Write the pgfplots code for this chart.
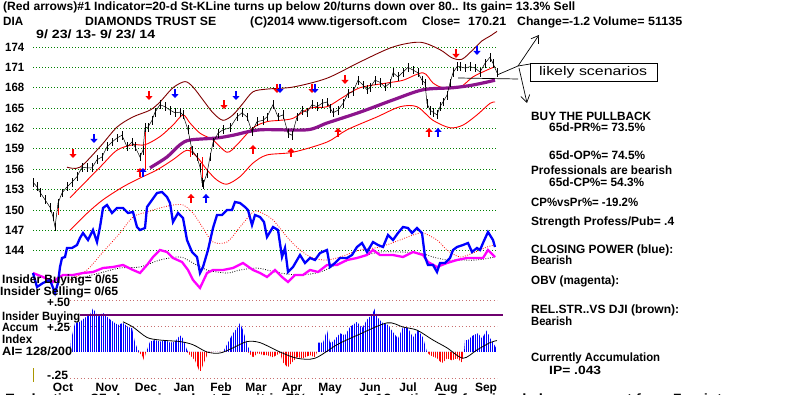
\documentclass[border=0pt]{standalone}
\usepackage{pgfplots}
\pgfplotsset{compat=1.18}
\usetikzlibrary{arrows.meta,patterns.meta}
\usepackage{graphicx}
\usepackage{fontspec}
\setmainfont{Liberation Sans}
\definecolor{grn}{RGB}{0,128,0}
\definecolor{dred}{RGB}{128,0,0}
\definecolor{purp}{RGB}{140,20,140}
\definecolor{ipurp}{RGB}{110,0,110}
\definecolor{mag}{RGB}{255,0,255}
\definecolor{ddot}{RGB}{200,110,110}
\definecolor{olive}{RGB}{170,150,0}
\newcommand\B{\fontsize{12}{14}\selectfont\bfseries}
\newcommand\txt[4]{\node[anchor=base west,inner sep=0pt] at (#1,395-#2) {\resizebox{#3pt}{\height}{\B #4}};}
\pgfplotstableread{
x y
70 0.0
71 0.115
75 0.28
80 0.29
85 0.33
90 0.36
93 0.42
98 0.34
103 0.375
108 0.33
113 0.29
118 0.26
123 0.28
128 0.24
132 0.23
135 0.09
138 0.02
140 0.0
142 0.0
144 0.0
146 0.0
147 0.02
150 0.10
155 0.115
160 0.10
165 0.115
170 0.09
175 0.10
180 0.16
183 0.13
187 0.02
188 0.0
223 0.0
228 0.09
233 0.18
238 0.24
240 0.28
243 0.21
248 0.05
251 0.0
317 0.0
318 0.09
323 0.09
327 0.21
330 0.09
333 0.10
340 0.18
345 0.16
350 0.24
357 0.29
362 0.23
367 0.31
372 0.36
375 0.42
378 0.33
383 0.28
388 0.26
393 0.19
398 0.13
403 0.24
408 0.23
413 0.14
418 0.21
423 0.14
427 0.0
464 0.0
465 0.115
468 0.115
473 0.16
478 0.18
482 0.13
487 0.21
490 0.14
493 0.09
496 0.04
497 0.0
}\aipos
\pgfplotstableread{
x y
138 0.0
142 -0.03
144 -0.08
146 0.0
187 0.0
190 -0.03
195 -0.08
200 -0.20
203 -0.125
208 -0.01
213 0.0
218 0.0
223 0.0
248 0.0
253 -0.05
258 -0.01
263 -0.03
267 -0.03
273 -0.05
280 -0.01
283 -0.10
288 -0.15
292 -0.10
297 -0.05
303 -0.06
310 -0.03
315 -0.05
317 0.0
427 0.0
430 -0.03
437 -0.06
442 -0.11
447 -0.06
452 -0.08
457 -0.06
462 -0.10
464 0.0
}\aineg
\begin{document}
\begin{tikzpicture}[x=1pt,y=1pt]
\useasboundingbox (0,0) rectangle (800,395);
\fill[white] (0,0) rectangle (800,395);
% ---------------- price panel ----------------
\begin{axis}[at={(0,0)},anchor=south west,scale only axis,width=800pt,height=395pt,
  xmin=0,xmax=800,ymin=122.75,ymax=180.92,hide axis,clip=false]
\pgfplotsinvokeforeach{144,147,...,174}{
  \draw[grn,line width=0.9pt,dash pattern=on 0.9pt off 2.1pt] (axis cs:33,#1) -- (axis cs:497,#1);
  \node[anchor=west,inner sep=0pt] at (axis cs:5,#1) {\resizebox{19pt}{\height}{\B #1}};
}
% upper band
\addplot[dred,line width=0.9pt,smooth] coordinates {
(67,156.3)(80,156.3)(100,159.3)(117,162.2)(133,163.7)(150,164.7)(160,165.9)(173,168.0)(185,168.9)(193,168.1)(203,166.2)(213,164.3)(223,163.2)(233,164.0)(243,165.7)(253,167.4)(267,167.8)(293,168.1)(327,169.4)(360,171.8)(393,174.0)(420,174.7)(440,173.6)(452,172.4)(462,172.2)(473,173.6)(482,174.9)(490,175.6)(497,176.3)};
% middle band
\addplot[red,line width=0.9pt,smooth] coordinates {
(70,151.8)(100,156.3)(117,158.8)(133,159.6)(145,159.6)(160,160.8)(173,162.5)(183,164.0)(190,162.8)(200,161.3)(213,160.3)(227,158.5)(237,159.6)(253,162.1)(267,163.0)(280,163.2)(293,163.5)(310,165.0)(327,165.2)(343,166.6)(360,168.0)(387,168.7)(403,169.1)(423,170.2)(433,168.7)(443,168.0)(460,168.1)(473,169.6)(487,170.6)(495,171.1)};
% lower band
\addplot[red,line width=0.9pt,smooth] coordinates {
(70,147.0)(87,149.5)(103,151.5)(123,153.4)(140,154.7)(157,155.9)(173,157.4)(187,158.8)(197,157.8)(207,155.9)(217,154.4)(227,153.8)(240,154.9)(253,156.9)(267,158.1)(293,158.5)(327,160.0)(347,161.8)(377,163.7)(400,165.2)(417,165.2)(433,163.2)(450,162.1)(463,162.5)(477,164.0)(490,165.7)(495,165.9)};
% gap lines
\addplot[red,line width=1pt] coordinates {(58,149.3)(58,151.3)};
\addplot[red,line width=1pt] coordinates {(145,155.9)(145,162.1)};
\addplot[red,line width=1pt] coordinates {(137,155.9)(145,155.9)};
\addplot[red,line width=1pt] coordinates {(190,157.8)(190,159.3)};
\addplot[red,line width=1pt] coordinates {(202,153.4)(202,157.8)};
% 65-day MA
\addplot[purp,line width=3.2pt,smooth] coordinates {
(150,156.2)(167,157.8)(180,159.6)(190,160.3)(217,160.6)(233,161.0)(260,161.8)(307,161.8)(327,162.8)(360,164.4)(393,166.2)(423,167.7)(453,168.0)(473,168.4)(495,169.1)};
% price bars
\addplot[black,line width=0.5pt,error bars/.cd,y dir=both,y fixed=0.65,error mark=none,
  error bar style={line width=1pt,black}] table {
x y
33 154.1
37 153.4
40 152.6
45 151.5
50 150.4
53 149.0
55 147.5
58 151.0
62 152.5
67 153.4
72 154.1
77 154.9
82 156.3
87 156.2
92 156.2
97 157.4
102 157.8
107 159.3
112 160.0
117 160.6
122 161.0
127 159.3
132 160.0
135 159.3
140 157.8
143 158.8
145 162.1
148 162.2
152 163.2
155 164.4
160 165.5
165 165.2
170 164.7
175 164.3
180 164.4
183 164.0
188 161.8
192 158.8
197 157.8
200 156.3
202 154.0
203 153.7
207 155.4
210 157.8
213 159.9
218 161.3
223 161.8
230 162.1
237 163.7
242 164.3
247 163.7
252 161.5
257 163.0
263 163.2
267 163.7
273 165.5
278 163.7
283 164.0
288 161.3
292 161.0
297 163.7
302 164.7
307 164.4
312 165.5
317 165.2
322 165.7
327 165.9
330 165.0
333 164.3
338 164.7
343 165.7
348 167.2
353 167.4
358 169.1
363 168.4
367 167.7
370 168.0
375 169.1
380 168.8
385 168.1
390 168.7
393 170.2
398 169.6
403 170.3
408 171.0
413 170.6
418 170.2
422 169.1
425 168.7
427 165.7
430 164.7
433 164.4
437 164.0
440 165.2
443 165.9
447 166.9
450 168.7
453 170.2
457 171.1
460 171.1
465 170.9
470 171.1
475 170.9
480 170.3
485 171.6
490 172.5
493 171.6
497 170.2
};
% arrows
\addplot[red,line width=2.2pt,-{Triangle[width=7pt,length=4pt]},quiver={u=0,v=\thisrow{v}}] table {
x y v
73 158.98 -1.33
149 167.52 -1.33
224 166.19 -1.33
277 168.55 -1.33
312 168.55 -1.33
345 169.88 -1.33
456 173.71 -1.33
140 154.85 1.33
191 151.03 1.33
253 158.24 1.33
291 157.80 1.33
338 160.75 1.33
429 160.75 1.33
};
\addplot[blue,line width=2.2pt,-{Triangle[width=7pt,length=4pt]},quiver={u=0,v=\thisrow{v}}] table {
x y v
94 161.19 -1.33
175 167.81 -1.33
236 167.52 -1.33
280 168.55 -1.33
315 168.55 -1.33
477 174.15 -1.33
143 154.85 1.33
206 151.03 1.33
438 160.75 1.33
};
\end{axis}
% ---------------- indicator panel (CP / OBV) ----------------
\begin{axis}[at={(0,0)},anchor=south west,scale only axis,width=800pt,height=395pt,
  xmin=0,xmax=800,ymin=0,ymax=395,y dir=reverse,hide axis,clip=false]
\addplot[red,line width=0.8pt,dash pattern=on 0.8pt off 1.6pt,smooth] coordinates {
(70,280)(87,270)(103,252)(120,233)(133,217)(147,212)(160,208)(173,205)(183,205)(193,213)(203,228)(213,242)(227,242)(240,227)(253,212)(260,212)(273,220)(287,237)(300,250)(313,258)(327,260)(340,257)(360,250)(380,247)(400,240)(413,235)(423,233)(437,240)(447,250)(460,257)(473,253)(487,247)(495,245)};
\addplot[black,line width=0.8pt,dash pattern=on 0.8pt off 1.6pt,smooth] coordinates {
(73,280)(100,273)(120,268)(140,267)(160,260)(180,257)(193,263)(207,270)(227,273)(240,270)(257,268)(267,270)(280,273)(300,275)(320,272)(340,263)(360,257)(380,252)(400,252)(420,253)(433,257)(447,260)(460,260)(477,260)(495,257)};
\addplot[mag,line width=2.3pt] coordinates {
(33,273)(43,277)(53,282)(58,278)(63,275)(73,275)(83,273)(93,272)(103,268)(113,267)(123,265)(133,270)(140,273)(147,265)(153,257)(160,250)(167,252)(173,258)(182,262)(188,270)(193,280)(200,288)(207,273)(213,270)(223,270)(233,268)(243,263)(253,270)(260,273)(267,277)(275,270)(282,277)(288,282)(295,275)(303,275)(310,270)(318,272)(327,265)(337,265)(347,260)(357,258)(367,255)(373,250)(380,255)(393,255)(403,257)(413,252)(423,255)(428,262)(437,267)(447,263)(457,260)(467,258)(477,258)(483,258)(488,250)(495,257)};
\addplot[blue,line width=2.3pt] coordinates {
(33,273)(37,287)(43,283)(50,280)(55,293)(58,283)(60,267)(62,258)(65,257)(67,248)(72,248)(77,245)(80,238)(83,233)(88,240)(93,230)(97,242)(100,227)(103,208)(107,205)(112,213)(117,208)(123,208)(128,213)(133,212)(137,227)(140,230)(145,228)(147,207)(152,200)(157,193)(162,192)(167,197)(170,203)(173,222)(178,213)(183,218)(187,240)(192,252)(197,257)(200,273)(203,267)(208,250)(213,228)(217,215)(222,215)(227,210)(232,210)(235,202)(240,203)(245,207)(248,210)(252,225)(255,215)(260,217)(264,222)(267,237)(273,227)(278,230)(282,257)(285,248)(288,272)(293,267)(300,255)(305,263)(310,258)(315,260)(320,253)(327,250)(330,267)(335,263)(340,258)(347,258)(352,255)(357,247)(362,243)(367,252)(373,242)(378,245)(383,247)(388,235)(393,240)(398,233)(403,227)(408,228)(412,233)(417,228)(422,233)(425,257)(428,265)(433,265)(437,272)(440,263)(445,263)(450,258)(453,250)(457,247)(463,245)(468,243)(472,252)(477,248)(480,250)(483,243)(488,232)(493,240)(495,247)};
\end{axis}
% ---------------- accumulation index panel ----------------
\begin{axis}[at={(0,0)},anchor=south west,scale only axis,width=800pt,height=395pt,
  xmin=0,xmax=800,ymin=-0.4135,ymax=3.385,hide axis,clip=false]
\draw[ddot,line width=0.9pt,dash pattern=on 0.9pt off 2.6pt] (axis cs:70,0.5) -- (axis cs:497,0.5);
\draw[ddot,line width=0.9pt,dash pattern=on 0.9pt off 2.6pt] (axis cs:70,0.25) -- (axis cs:497,0.25);
\draw[ddot,line width=0.9pt,dash pattern=on 0.9pt off 2.6pt] (axis cs:70,-0.25) -- (axis cs:497,-0.25);
\draw[olive,line width=1pt] (axis cs:33,-0.154) -- (axis cs:33,-0.288);
\addplot[draw=none,pattern={Lines[angle=90,distance=2.2pt,line width=1.1pt]},pattern color=blue] table {\aipos} \closedcycle;
\addplot[draw=none,pattern={Lines[angle=90,distance=2.2pt,line width=1.1pt]},pattern color=red] table {\aineg} \closedcycle;
\draw[ipurp,line width=1.2pt] (axis cs:80,0.356) -- (axis cs:503,0.356);
\addplot[black,line width=0.8pt,smooth] coordinates {
(123,0.29)(133,0.24)(147,0.14)(160,0.115)(180,0.10)(193,0.07)(207,0.0)(220,-0.01)(233,0.04)(247,0.10)(260,0.09)(280,0.0)(297,-0.06)(315,-0.06)(337,0.07)(357,0.16)(387,0.28)(403,0.24)(417,0.21)(433,0.115)(447,0.04)(463,-0.06)(477,0.02)(490,0.09)(497,0.11)};
\end{axis}
% ---------------- scenario annotation ----------------
\draw[line width=0.7pt] (458,395-78) -- (518,395-79);
\draw[line width=0.7pt] (497,395-75) -- (518,395-66) -- (530,395-64);
\draw[line width=0.7pt,-{Straight Barb[length=7pt,width=9pt]}] (518,395-66) -- (539,395-35);
\draw[line width=0.7pt,-{Straight Barb[length=7pt,width=9pt]}] (519,395-68) -- (527,395-103);
\draw[line width=0.8pt,fill=white] (530,395-63) rectangle (657,395-81);
\node[anchor=base west,inner sep=0pt] at (539,395-76) {\resizebox{108pt}{\height}{\fontsize{12.5}{14}\selectfont likely scenarios}};
% ---------------- texts ----------------
\txt{3}{11}{572}{(Red arrows)\#1 Indicator=20-d St-KLine turns up below 20/turns down over 80.. Its gain= 13.3\% Sell}
\txt{3}{26}{20}{DIA}
\txt{85}{26}{131}{DIAMONDS TRUST SE}
\txt{250}{26}{157}{(C)2014 www.tigersoft.com}
\txt{422}{26}{38}{Close=}
\txt{468}{26}{38}{170.21}
\txt{517}{26}{73}{Change=-1.2}
\txt{593}{26}{89}{Volume= 51135}
\txt{36}{39}{119}{9/ 23/ 13- 9/ 23/ 14}
\txt{531}{121}{120}{BUY THE PULLBACK}
\txt{549}{132}{96}{65d-PR\%= 73.5\%}
\txt{549}{160}{96}{65d-OP\%= 74.5\%}
\txt{531}{175}{141}{Professionals are bearish}
\txt{549}{187}{95}{65d-CP\%= 54.3\%}
\txt{531}{207}{107}{CP\%vsPr\%= -19.2\%}
\txt{531}{226}{143}{Strength Profess/Pub= .4}
\txt{531}{254}{142}{CLOSING POWER (blue):}
\txt{531}{265}{41}{Bearish}
\txt{531}{285}{88}{OBV (magenta):}
\txt{531}{314}{148}{REL.STR..VS DJI (brown):}
\txt{531}{326}{41}{Bearish}
\txt{531}{362}{129}{Currently Accumulation}
\txt{549}{375}{52}{IP= .043}
\txt{47}{307}{23}{+.50}
\txt{2}{284}{116}{Insider Buying= 0/65}
\txt{0}{296}{118}{Insider Selling= 0/65}
\txt{2}{321}{78}{Insider Buying}
\txt{2}{332}{36}{Accum}
\txt{47}{332}{23}{+.25}
\txt{2}{344}{30}{Index}
\txt{2}{356}{70}{AI= 128/200}
\txt{47}{380}{21}{-.25}
\foreach \m/\xx in {Oct/63,Nov/107,Dec/146,Jan/184,Feb/221,Mar/256,Apr/292,May/330,Jun/370,Jul/408,Aug/446,Sep/486}{
  \node[anchor=base,inner sep=0pt] at (\xx,395-392) {\B \m};
}
\txt{5}{403}{725}{Evaluation: 25 days since last Buy, it is 7\% above, 1.10 ratio.  Professionals have support from 7 points}
\end{tikzpicture}
\end{document}
